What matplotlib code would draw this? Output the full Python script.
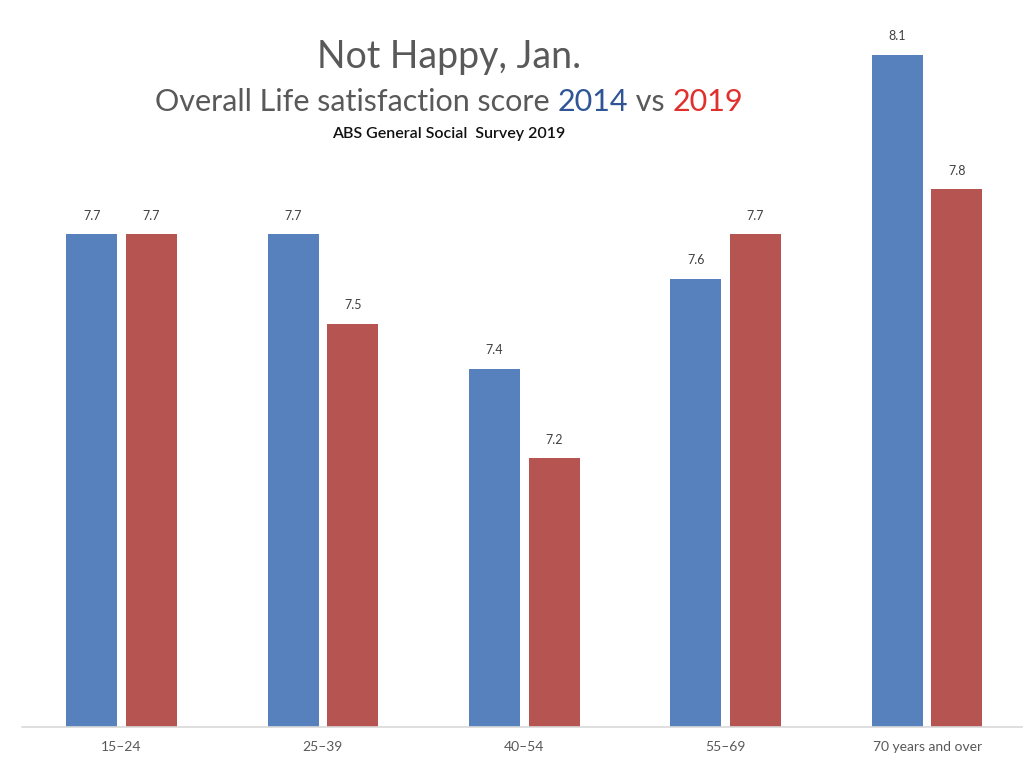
"""Life satisfaction by age group, 2014 vs 2019."""

import matplotlib

matplotlib.use("Agg")
import matplotlib.pyplot as plt
import numpy as np

AGE_GROUPS = ["15\u201324", "25\u201339", "40\u201354", "55\u201369", "70 years and over"]
SCORE_2014 = [7.7, 7.7, 7.4, 7.6, 8.1]
SCORE_2019 = [7.7, 7.5, 7.2, 7.7, 7.8]

BLUE = "#5681BC"
RED = "#B55450"
FONT = ["Lato", "DejaVu Sans"]


def main() -> None:
    fig = plt.figure(figsize=(10.23, 7.68), dpi=100)
    left = 22 / 1023
    bottom = 41 / 768
    ax = fig.add_axes([left, bottom, 1 - left, 717 / 768])

    x = np.arange(len(AGE_GROUPS))
    width = 0.253
    off = 0.148
    b1 = ax.bar(x - off, SCORE_2014, width, color=BLUE)
    b2 = ax.bar(x + off, SCORE_2019, width, color=RED)
    for bars in (b1, b2):
        ax.bar_label(bars, fmt="%.1f", padding=9, fontsize=9, color="#404040",
                     family=FONT)

    ax.set_ylim(6.6, 8.2)
    ax.set_xlim(-0.494, 4.476)
    ax.set_yticks([])
    ax.set_xticks(x, AGE_GROUPS, family=FONT, fontsize=10, color="#595959")
    ax.tick_params(axis="x", length=0, pad=10)
    for side in ("top", "left", "right"):
        ax.spines[side].set_visible(False)
    ax.spines["bottom"].set_color("#d9d9d9")
    ax.spines["bottom"].set_linewidth(1.2)

    cx = 449 / 1023
    fig.text(cx, 1 - 57 / 768, "Not Happy, Jan.", ha="center", va="center",
             fontsize=27, color="#595959", family=FONT)

    # second title line in three colours
    parts = [("Overall Life satisfaction score ", "#595959"), ("2014", "#2F5597"),
             (" vs ", "#595959"), ("2019", "#E0302E")]
    y2 = 1 - 102 / 768
    texts = [fig.text(0, y2, s, ha="left", va="center", fontsize=22, color=c,
                      family=FONT) for s, c in parts]
    fig.canvas.draw()
    renderer = fig.canvas.get_renderer()
    widths = [t.get_window_extent(renderer).width for t in texts]
    total = sum(widths)
    xpos = cx * 1023 - total / 2
    for t, w in zip(texts, widths):
        t.set_x(xpos / 1023)
        xpos += w

    fig.text(cx, 1 - 134 / 768, "ABS General Social  Survey 2019", ha="center",
             va="center", fontsize=11.5, color="#111111", family=FONT,
             weight="semibold")

    fig.savefig("out.png", dpi=100)
    plt.close(fig)


if __name__ == "__main__":
    main()
